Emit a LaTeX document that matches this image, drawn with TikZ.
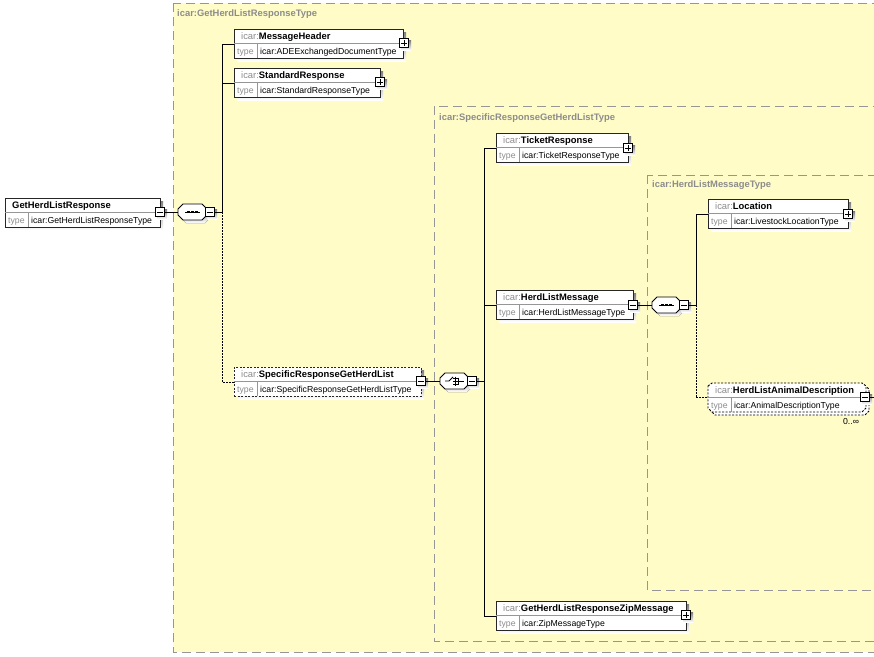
\documentclass[tikz,border=0pt]{standalone}
\usepackage{fontspec}
\setmainfont{Liberation Sans}
\definecolor{contfill}{RGB}{255,252,200}
\definecolor{contline}{RGB}{150,150,150}
\definecolor{shade}{RGB}{170,170,170}
\definecolor{pre}{RGB}{140,140,140}
\definecolor{divc}{RGB}{150,150,150}
\tikzset{
  cont/.style={draw=contline, fill=contfill, dash pattern=on 9pt off 5pt, line width=0.9pt},
  contlabel/.style={anchor=base west, inner sep=0, text=pre, font=\fontsize{9.4}{11}\selectfont\bfseries},
  elbox/.style={draw=black!85, fill=white, line width=0.9pt, rectangle, inner sep=0, anchor=north west},
  txt/.style={anchor=base west, inner sep=0, font=\fontsize{8.7}{10}\selectfont},
  nametxt/.style={anchor=base west, inner sep=0, font=\fontsize{9.4}{11}\selectfont},
  signbox/.style={draw=black, fill=white, line width=0.9pt, minimum size=9pt, inner sep=0},
  conn/.style={draw=black, line width=0.9pt},
  optconn/.style={conn, dash pattern=on 1.5pt off 1.5pt},
  optline/.style={dash pattern=on 2pt off 1.5pt},
  hub/.style={inner sep=0, minimum width=29pt, minimum height=16pt}
}
\newcommand\elem[8]{%
  \fill[shade] (#2+3,#3+3) rectangle ++(#4,29);
  \node[elbox,#8,minimum width=#4pt,minimum height=29pt] (#1) at (#2,#3) {};
  \draw[divc, line width=0.7pt] (#2,#3+14) -- ++(#4,0);
  \draw[divc, line width=0.7pt] (#2+23,#3+14) -- ++(0,15);
  \node[nametxt] (#1-n) at (#2+7,#3+10.8) {{\color{pre}#5}\textbf{#6}};
  \node[txt,text=pre] (#1-t0) at (#2+3,#3+25.5) {type};
  \node[txt] (#1-t) at (#2+26,#3+25.5) {#7};
}
\newcommand\minusbox[3]{%
  \fill[shade] (#2-2.5,#3-2.5) rectangle (#2+7,#3+7);
  \node[signbox] (#1) at (#2,#3) {};
  \draw[line width=0.9pt] (#2-2.8,#3) -- (#2+2.8,#3);
}
\newcommand\plusbox[3]{%
  \fill[shade] (#2-2.5,#3-2.5) rectangle (#2+7,#3+7);
  \node[signbox] (#1) at (#2,#3) {};
  \draw[line width=0.9pt] (#2-2.8,#3) -- (#2+2.8,#3) (#2,#3-2.8) -- (#2,#3+2.8);
}
\newcommand\octa[3]{%
  \fill[shade] (#2+3,#3) -- (#2+8,#3-5) -- (#2+27,#3-5) -- (#2+32,#3) -- (#2+32,#3+6) -- (#2+27,#3+11) -- (#2+8,#3+11) -- (#2+3,#3+6) -- cycle;
  \draw[fill=white, line width=0.9pt] (#2,#3-3) -- (#2+5,#3-8) -- (#2+24,#3-8) -- (#2+29,#3-3) -- (#2+29,#3+3) -- (#2+24,#3+8) -- (#2+5,#3+8) -- (#2,#3+3) -- cycle;
  \node[hub] (#1) at (#2+14.5,#3) {};
}
\newcommand\seqcomp[3]{%
  \octa{#1}{#2}{#3}
  \draw[line width=0.9pt] (#2+7,#3) -- (#2+22,#3);
  \fill (#2+9.3,#3-1.3) rectangle ++(2.6,2.6);
  \fill (#2+13.2,#3-1.3) rectangle ++(2.6,2.6);
  \fill (#2+17.1,#3-1.3) rectangle ++(2.6,2.6);
}
\newcommand\choicecomp[3]{%
  \octa{#1}{#2}{#3}
  \draw[line width=0.9pt] (#2+5,#3) -- (#2+9,#3) -- (#2+13,#3-4);
  \draw[line width=0.9pt] (#2+15,#3-4.5) -- (#2+15,#3+4.5);
  \draw[line width=0.8pt] (#2+13,#3-3) -- (#2+18,#3-3) (#2+13,#3) -- (#2+18,#3) (#2+13,#3+3) -- (#2+18,#3+3);
  \draw[line width=0.9pt] (#2+18,#3-3.5) -- (#2+18,#3+3.5);
  \draw[line width=0.9pt] (#2+18,#3) -- (#2+24,#3);
}
\begin{document}
\begin{tikzpicture}[x=1pt,y=-1pt]
\useasboundingbox (0,0) rectangle (874,656);
\clip (0,0) rectangle (874,656);
\fill[white] (0,0) rectangle (874,656);

% containers
\draw[cont] (173,3) rectangle (900,652);
\node[contlabel] (lab1) at (177,16.5) {icar:GetHerdListResponseType};
\draw[cont] (434,106) rectangle (900,641);
\node[contlabel] (lab2) at (439,120.5) {icar:SpecificResponseGetHerdListType};
\draw[cont] (647,175) rectangle (900,590);
\node[contlabel] (lab3) at (652,187.5) {icar:HerdListMessageType};

% elements
\elem{root}{5}{198}{155}{}{GetHerdListResponse}{icar:GetHerdListResponseType}{}
\elem{mh}{234}{29}{169}{icar:}{MessageHeader}{icar:ADEExchangedDocumentType}{}
\elem{sr}{234}{68}{146}{icar:}{StandardResponse}{icar:StandardResponseType}{}
\elem{srg}{234}{367}{187}{icar:}{SpecificResponseGetHerdList}{icar:SpecificResponseGetHerdListType}{optline}
\elem{tr}{496}{133}{132}{icar:}{TicketResponse}{icar:TicketResponseType}{}
\elem{hlm}{496}{290}{137}{icar:}{HerdListMessage}{icar:HerdListMessageType}{}
\elem{zip}{496}{601}{190}{icar:}{GetHerdListResponseZipMessage}{icar:ZipMessageType}{}
\elem{loc}{708}{199}{140}{icar:}{Location}{icar:LivestockLocationType}{}

% repeated optional element
\draw[line width=0.9pt, optline, fill=white] (711,389) -- (715,386) -- (865,386) -- (869,389) -- (869,411) -- (865,415) -- (715,415) -- (711,411) -- cycle;
\draw[line width=0.9pt, optline, fill=white] (708,386) -- (712,383) -- (862,383) -- (866,386) -- (866,408) -- (862,412) -- (712,412) -- (708,408) -- cycle;
\node[inner sep=0, minimum width=158pt, minimum height=29pt, anchor=north west] (hlad) at (708,383) {};
\draw[divc, line width=0.7pt] (708,397) -- (866,397);
\draw[divc, line width=0.7pt] (731,397) -- (731,412);
\node[nametxt] (hlad-n) at (715,393.8) {{\color{pre}icar:}\textbf{HerdListAnimalDescription}};
\node[txt,text=pre] (hlad-t0) at (711,408.5) {type};
\node[txt] (hlad-t) at (734,408.5) {icar:AnimalDescriptionType};
\node[txt, anchor=center] (hlad-occ) at (851,421.5) {0..\symbol{"221E}};

% signs
\minusbox{root-s}{160}{212}
\plusbox{mh-s}{404}{43}
\plusbox{sr-s}{380}{82}
\minusbox{srg-s}{421}{381}
\plusbox{tr-s}{628}{148}
\minusbox{hlm-s}{633}{305}
\plusbox{zip-s}{686}{615}
\plusbox{loc-s}{848}{214}
\minusbox{hlad-s}{865}{397}

% compositors
\seqcomp{seq1}{178}{212}
\minusbox{seq1-s}{210}{212}
\choicecomp{ch}{440}{381}
\minusbox{ch-s}{472}{381}
\seqcomp{seq2}{652}{305}
\minusbox{seq2-s}{684}{305}

% bus points
\coordinate (b1) at (222,212);
\coordinate (b2) at (484,381);
\coordinate (b3) at (696,305);
\coordinate (hlad-out) at (880,397);

% connectors
\draw[conn] (root-s.east) -- (seq1.west);
\draw[conn] (seq1-s.east) -- (b1);
\draw[conn] (b1) |- (mh.west);
\draw[conn] (b1) |- (sr.west);
\draw[optconn] (b1) |- (srg.west);
\draw[conn] (srg-s.east) -- (ch.west);
\draw[conn] (ch-s.east) -- (b2);
\draw[conn] (b2) |- (tr.west);
\draw[conn] (b2) |- (hlm.west);
\draw[conn] (b2) |- (zip.west);
\draw[conn] (hlm-s.east) -- (seq2.west);
\draw[conn] (seq2-s.east) -- (b3);
\draw[conn] (b3) |- (loc.west);
\draw[optconn] (b3) |- (hlad.west);
\draw[conn] (hlad-s.east) -- (hlad-out);
\end{tikzpicture}
\end{document}
